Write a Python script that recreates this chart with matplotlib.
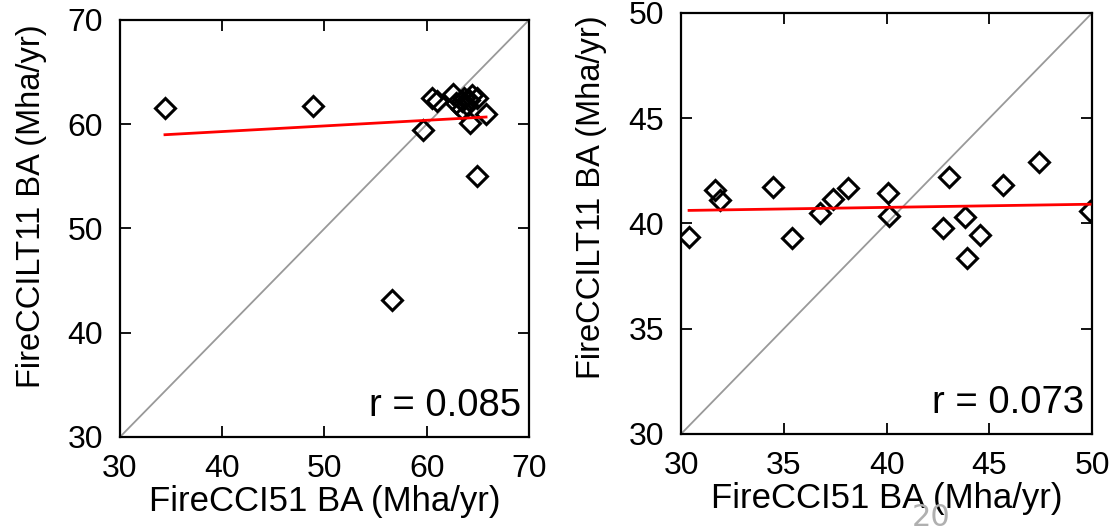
import numpy as np
import matplotlib.pyplot as plt

plt.rcParams['font.family'] = ['Liberation Sans', 'DejaVu Sans']

# left panel: FireCCI51 vs FireCCILT11 (global)
x_left = [34.4, 48.85, 59.6, 56.65, 64.9, 64.25, 65.8,
          60.5, 61.0, 62.6, 63.4, 63.9, 64.4, 64.9, 63.4, 62.9, 64.1, 63.6]
y_left = [61.6, 61.75, 59.45, 43.15, 55.0, 60.1, 60.95,
          62.5, 62.26, 62.9, 62.2, 61.85, 62.8, 62.5, 61.5, 62.0, 62.3, 62.5]

# right panel
x_right = [30.39, 31.65, 31.9, 34.46, 35.42, 36.76, 37.41, 38.14, 40.09,
           40.14, 42.73, 43.06, 43.82, 43.9, 44.55, 45.65, 47.42, 49.9]
y_right = [39.37, 41.59, 41.12, 41.75, 39.3, 40.48, 41.15, 41.67, 41.46,
           40.36, 39.77, 42.22, 40.32, 38.35, 39.45, 41.83, 42.94, 40.6]

r_left = 'r = 0.085'
r_right = 'r = 0.073'

fig = plt.figure(figsize=(11.17, 5.27), dpi=100)
ax1 = fig.add_axes([0.1074, 0.1708, 0.3662, 0.7913])
ax2 = fig.add_axes([0.6097, 0.1765, 0.3680, 0.7989])


def panel(ax, x, y, lim, ticks, rtxt, ylab_x, ylab_y):
    x = np.array(x)
    y = np.array(y)
    ax.plot(lim, lim, color='#999999', lw=1.3, zorder=1)
    k, b = np.polyfit(x, y, 1)
    xx = np.array([x.min(), x.max()])
    ax.plot(xx, k * xx + b, color='red', lw=2, zorder=3)
    ax.plot(x, y, 'D', mfc='none', mec='black', ms=10.5, mew=2.2, zorder=2)
    ax.set_xlim(lim)
    ax.set_ylim(lim)
    ax.set_xticks(ticks)
    ax.set_yticks(ticks)
    ax.tick_params(direction='in', length=8, width=1.3, top=True, right=True,
                   labelsize=23, pad=12)
    for s in ax.spines.values():
        s.set_linewidth(1.6)
    ax.set_xlabel('FireCCI51 BA (Mha/yr)', fontsize=25, labelpad=1)
    ax.set_ylabel('FireCCILT11 BA (Mha/yr)', fontsize=23.5)
    ax.yaxis.set_label_coords(ylab_x, ylab_y)
    ax.text(0.98, 0.03, rtxt, transform=ax.transAxes, ha='right', va='bottom',
            fontsize=27.5)


panel(ax1, x_left, y_left, [30, 70], [30, 40, 50, 60, 70], r_left, -0.178, 0.554)
panel(ax2, x_right, y_right, [30, 50], [30, 35, 40, 45, 50], r_right, -0.180, 0.563)

# page number partially cut off at the bottom
fig.text(0.8165, 0.002, '20', fontsize=22, color='#b0b0b0', ha='left',
         va='baseline', family='DejaVu Sans')

fig.savefig('out.png', dpi=100)
